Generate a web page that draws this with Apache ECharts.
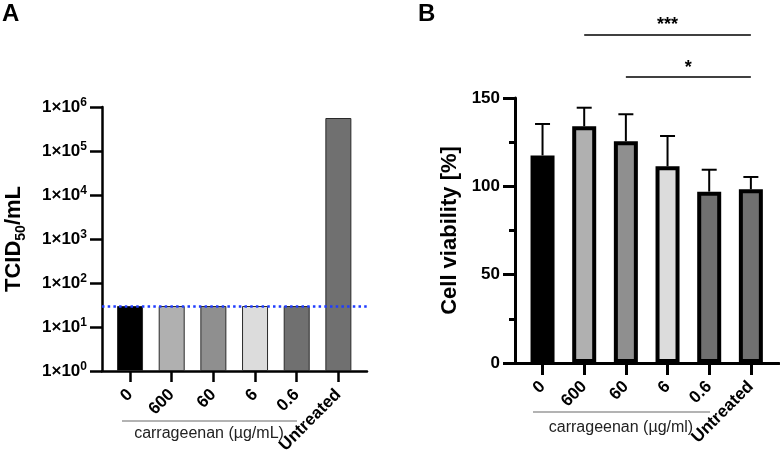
<!DOCTYPE html>
<html><head><meta charset="utf-8">
<script src="https://cdn.jsdelivr.net/npm/echarts@6/dist/echarts.min.js"></script>
<style>html,body{margin:0;padding:0;background:#fff}#c{width:780px;height:457px}</style>
</head><body><div id="c"></div>
<script>
// ---- data ----
const categories = ['0', '600', '60', '6', '0.6', 'Untreated'];
const barColors = ['#000000', '#b0b0b0', '#8f8f8f', '#dcdcdc', '#707070', '#707070'];
const tcid50Values = [30, 30, 30, 30, 30, 562000];
const detectionLimit = 30;
const logTickExponents = [0, 1, 2, 3, 4, 5, 6];
const viabilityMean = [117.5, 134, 125.5, 111.3, 97, 98.3];
const viabilityUpper = [135.3, 144.5, 140.8, 128.5, 109.4, 105.3];
const viabilityTicks = [0, 50, 100, 150];
const sigComparisons = [['600', 'Untreated', '***'], ['60', 'Untreated', '*']];
const sigLevels = [186, 162];
const groupLabelA = 'carrageenan (µg/mL)';
const groupLabelB = 'carrageenan (µg/ml)';

const FONT = "'Liberation Sans', Arial, sans-serif";
const chart = echarts.init(document.getElementById('c'), null, {renderer: 'canvas'});

function logLabel(v) {
  const e = Math.round(Math.log10(v));
  if (logTickExponents.indexOf(e) < 0) return '';
  return '{b|1×10}{s|' + e + '}';
}
const option = {
  backgroundColor: '#fff',
  animation: false,
  textStyle: {fontFamily: FONT},
  grid: [
    {left: 102, top: 107, width: 265, height: 264},
    {left: 109.2, top: 107, width: 250, height: 264},
    {left: 515, top: 98, width: 264, height: 265},
    {left: 521.7, top: 98, width: 250, height: 265},
    {left: 521.7, top: 0, width: 250, height: 98}
  ],
  xAxis: [
    {gridIndex: 0, type: 'value', min: 0, max: 1, axisLine: {show: true, onZero: false, lineStyle: {color: '#000', width: 2.5}},
     axisTick: {show: false}, axisLabel: {show: false}, splitLine: {show: false}},
    {gridIndex: 1, type: 'category', data: categories, axisLine: {show: false},
     axisTick: {show: true, alignWithLabel: true, length: 11, lineStyle: {color: '#000', width: 2.5}},
     axisLabel: {rotate: 45, margin: 21, fontSize: 17, fontWeight: 'bold', color: '#000', fontFamily: FONT, interval: 0}},
    {gridIndex: 2, type: 'value', min: 0, max: 1, axisLine: {show: true, onZero: false, lineStyle: {color: '#000', width: 3}},
     axisTick: {show: false}, axisLabel: {show: false}, splitLine: {show: false}},
    {gridIndex: 3, type: 'category', data: categories, axisLine: {show: false},
     axisTick: {show: true, alignWithLabel: true, length: 12, lineStyle: {color: '#000', width: 3}},
     axisLabel: {rotate: 45, margin: 21, fontSize: 17, fontWeight: 'bold', color: '#000', fontFamily: FONT, interval: 0}},
    {gridIndex: 4, type: 'category', data: categories, show: false}
  ],
  yAxis: [
    {gridIndex: 0, type: 'log', logBase: 10, min: 1, max: 1000000, splitNumber: 6,
     axisLine: {show: true, lineStyle: {color: '#000', width: 2.5}},
     axisTick: {show: true, length: 12, lineStyle: {color: '#000', width: 2.5}},
     splitLine: {show: false},
     axisLabel: {margin: 15, formatter: logLabel, color: '#000',
       rich: {
         b: {fontSize: 17, fontWeight: 'bold', fontFamily: FONT, color: '#000', lineHeight: 20},
         s: {fontSize: 12, fontWeight: 'bold', fontFamily: FONT, color: '#000', lineHeight: 11, verticalAlign: 'top'}
       }},
     name: '{a|TCID}{s|50}{a|/mL}', nameLocation: 'middle', nameGap: 74,
     nameTextStyle: {rich: {
       a: {fontSize: 22, fontWeight: 'bold', fontFamily: FONT, color: '#000', lineHeight: 28},
       s: {fontSize: 14, fontWeight: 'bold', fontFamily: FONT, color: '#000', lineHeight: 16, verticalAlign: 'bottom'}
     }}},
    {gridIndex: 1, type: 'log', logBase: 10, min: 1, max: 1000000, show: false},
    {gridIndex: 2, type: 'value', min: 0, max: 150, interval: 50,
     axisLine: {show: true, lineStyle: {color: '#000', width: 3}},
     axisTick: {show: true, length: 12, lineStyle: {color: '#000', width: 3}},
     minorTick: {show: true, splitNumber: 2, length: 6, lineStyle: {color: '#000', width: 3}},
     splitLine: {show: false},
     axisLabel: {margin: 15, fontSize: 17, fontWeight: 'bold', color: '#000', fontFamily: FONT,
       formatter: v => viabilityTicks.indexOf(v) >= 0 ? String(v) : ''},
     name: 'Cell viability [%]', nameLocation: 'middle', nameGap: 54,
     nameTextStyle: {fontSize: 22, fontWeight: 'bold', color: '#000', fontFamily: FONT}},
    {gridIndex: 3, type: 'value', min: 0, max: 150, show: false},
    {gridIndex: 4, type: 'value', min: 150, max: 205.5, show: false}
  ],
  series: [
    {type: 'bar', xAxisIndex: 1, yAxisIndex: 1, barWidth: 26, z: 3,
     data: tcid50Values.map((v, i) => ({value: v, itemStyle: {color: barColors[i]}})),
     itemStyle: {borderColor: '#2a2a2a', borderWidth: 1}},
    {type: 'line', xAxisIndex: 0, yAxisIndex: 0, data: [], z: 10,
     markLine: {silent: true, symbol: ['none', 'none'], animation: false,
       label: {show: false},
       lineStyle: {color: '#1f3cff', width: 2.5, type: [2.5, 3.2]},
       data: [{yAxis: detectionLimit}]}},
    {type: 'custom', xAxisIndex: 3, yAxisIndex: 3, z: 2,
     data: viabilityMean.map((m, i) => [i, m, viabilityUpper[i]]),
     renderItem: function (params, api) {
       const x = api.value(0);
       const top = api.coord([x, api.value(2)]);
       const bot = api.coord([x, api.value(1)]);
       const half = 7.5;
       return {type: 'group', children: [
         {type: 'line', shape: {x1: top[0], y1: top[1], x2: bot[0], y2: bot[1]}, style: {stroke: '#000', lineWidth: 2}},
         {type: 'line', shape: {x1: top[0] - half, y1: top[1], x2: top[0] + half, y2: top[1]}, style: {stroke: '#000', lineWidth: 2}}
       ]};
     }},
    {type: 'bar', xAxisIndex: 3, yAxisIndex: 3, barWidth: 24, z: 3,
     data: viabilityMean.map((v, i) => ({value: v, itemStyle: {color: barColors[i]}})),
     itemStyle: {borderColor: '#000', borderWidth: 4}},
    {type: 'line', xAxisIndex: 4, yAxisIndex: 4, data: [], z: 10,
     markLine: {silent: true, symbol: ['none', 'none'], animation: false,
       lineStyle: {color: '#000', width: 1.5, type: 'solid'},
       label: {show: true, position: 'middle', formatter: '{b}', distance: 0, fontSize: 18, fontWeight: 'bold', color: '#000', fontFamily: FONT},
       data: sigComparisons.map((c, k) => [
         {coord: [categories.indexOf(c[0]), sigLevels[k]], name: c[2]},
         {coord: [categories.indexOf(c[1]), sigLevels[k]]}
       ])}}
  ],
  graphic: [
    {type: 'text', x: 2, y: 14, style: {text: 'A', fontSize: 24, fontWeight: 'bold', fontFamily: FONT, fill: '#000', verticalAlign: 'middle'}},
    {type: 'text', x: 418, y: 14, style: {text: 'B', fontSize: 24, fontWeight: 'bold', fontFamily: FONT, fill: '#000', verticalAlign: 'middle'}},
    {type: 'line', shape: {x1: 122, y1: 421, x2: 297, y2: 421}, style: {stroke: '#9a9a9a', lineWidth: 1.5}},
    {type: 'line', shape: {x1: 533, y1: 412, x2: 710, y2: 412}, style: {stroke: '#9a9a9a', lineWidth: 1.5}},
    {type: 'text', x: 209, y: 434, style: {text: groupLabelA, align: 'center', verticalAlign: 'middle', fontSize: 16, fontFamily: FONT, fill: '#222'}},
    {type: 'text', x: 621, y: 428, style: {text: groupLabelB, align: 'center', verticalAlign: 'middle', fontSize: 16, fontFamily: FONT, fill: '#222'}}
  ]
};
chart.setOption(option);
</script></body></html>
